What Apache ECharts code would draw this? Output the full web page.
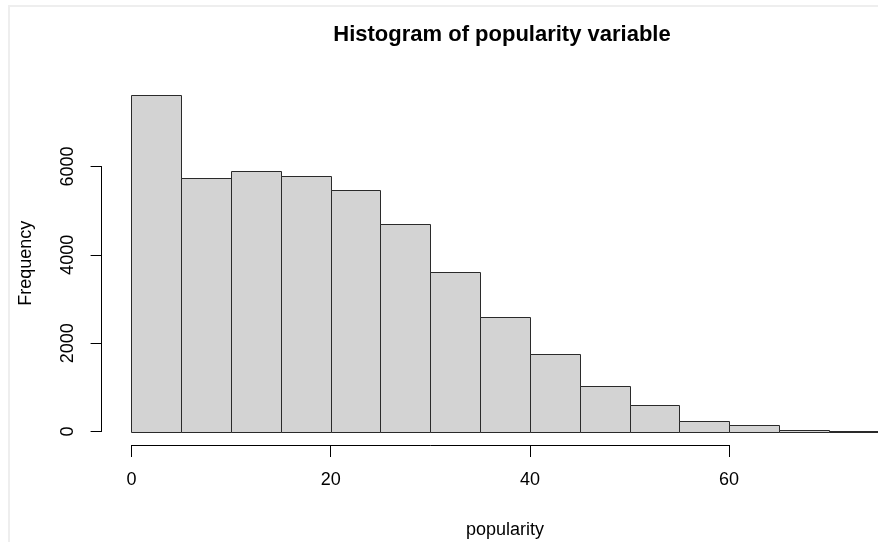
<!DOCTYPE html>
<html>
<head>
<meta charset="utf-8">
<script src="https://cdn.jsdelivr.net/npm/echarts@6/dist/echarts.min.js"></script>
<style>
html,body{margin:0;padding:0;background:#fff;}
#chart{width:878px;height:542px;}
</style>
</head>
<body>
<div id="chart"></div>
<script>
// ---- data ----
const breaks = [0, 5, 10, 15, 20, 25, 30, 35, 40, 45, 50, 55, 60, 65, 70, 75];
const counts = [7620, 5740, 5900, 5790, 5470, 4690, 3610, 2590, 1755, 1020, 590, 240, 140, 30, 2];
const xTicks = [0, 20, 40, 60];
const yTicks = [0, 2000, 4000, 6000];
const titleText = 'Histogram of popularity variable';
const xName = 'popularity';
const yName = 'Frequency';

// ---- layout (R-style 4% axis extension) ----
const FONT = "'Liberation Sans', Arial, sans-serif";
const CW = 878;
const plotLeft = 101.6, plotRight = 908.4, plotTop = 81.5, plotBottom = 445;
const xRange = breaks[breaks.length - 1] - breaks[0];
const xMin = breaks[0] - 0.04 * xRange, xMaxFull = breaks[breaks.length - 1] + 0.04 * xRange;
const yTop = Math.max(...counts);
const yMin = -0.04 * yTop, yMax = yTop * 1.04;
const W = plotRight - plotLeft, H = plotBottom - plotTop;
const sx = W / (xMaxFull - xMin), sy = H / (yMax - yMin);
// visible part of the plot region (the reference is cropped at the right edge)
const Wvis = CW - plotLeft;
const xMaxVis = xMin + Wvis / sx;
const plotCenterX = plotLeft + W / 2;
const xT0 = xTicks[0], xT1 = xTicks[xTicks.length - 1];
const yT0 = yTicks[0], yT1 = yTicks[yTicks.length - 1];

const data = counts.map((c, i) => [breaks[i], breaks[i + 1], c]);

const chart = echarts.init(document.getElementById('chart'), null, {renderer: 'canvas'});
const crisp = v => Math.round(v) + 0.5;

chart.setOption({
  animation: false,
  backgroundColor: '#fff',
  graphic: [
    {type: 'rect', shape: {x: 9, y: 6, width: 900, height: 600}, style: {fill: 'none', stroke: '#eeeeee', lineWidth: 2}, silent: true, z: -10},
    {type: 'text', x: 502, y: 24, style: {text: titleText, font: 'bold 22px ' + FONT, fill: '#000', textAlign: 'center', textVerticalAlign: 'top'}},
    {type: 'text', x: plotCenterX, y: 521, style: {text: xName, font: '18px ' + FONT, fill: '#000', textAlign: 'center', textVerticalAlign: 'top'}}
  ],
  grid: [
    {left: plotLeft, top: plotTop, width: Wvis, height: H, containLabel: false},
    {left: plotLeft + (xT0 - xMin) * sx, top: plotTop, width: (xT1 - xT0) * sx, height: H, containLabel: false},
    {left: plotLeft, top: plotTop + (yMax - yT1) * sy, width: 100, height: (yT1 - yT0) * sy, containLabel: false}
  ],
  xAxis: [
    {type: 'value', gridIndex: 0, min: xMin, max: xMaxVis, axisLine: {show: false}, axisTick: {show: false}, axisLabel: {show: false}, splitLine: {show: false}},
    {type: 'value', gridIndex: 1, min: xT0, max: xT1, interval: xTicks[1] - xTicks[0], splitLine: {show: false},
     axisLine: {show: true, lineStyle: {color: '#000', width: 1}},
     axisTick: {show: true, length: 12, lineStyle: {color: '#000', width: 1}},
     axisLabel: {show: true, margin: 26, fontFamily: FONT, fontSize: 18, color: '#000', showMinLabel: true, showMaxLabel: true,
                 formatter: v => String(v)}},
    {type: 'value', gridIndex: 2, min: 0, max: 1, show: false}
  ],
  yAxis: [
    {type: 'value', gridIndex: 0, min: yMin, max: yMax, axisLine: {show: false}, axisTick: {show: false}, axisLabel: {show: false}, splitLine: {show: false},
     name: yName, nameLocation: 'middle', nameGap: 67, nameRotate: 90, nameTextStyle: {fontFamily: FONT, fontSize: 18, color: '#000'}},
    {type: 'value', gridIndex: 1, min: 0, max: 1, show: false},
    {type: 'value', gridIndex: 2, min: yT0, max: yT1, interval: yTicks[1] - yTicks[0], splitLine: {show: false},
     axisLine: {show: true, lineStyle: {color: '#000', width: 1}},
     axisTick: {show: true, length: 11, lineStyle: {color: '#000', width: 1}},
     axisLabel: {show: true, rotate: 90, margin: 25, fontFamily: FONT, fontSize: 18, color: '#000', showMinLabel: true, showMaxLabel: true,
                 formatter: v => String(v)}}
  ],
  series: [{
    type: 'custom',
    xAxisIndex: 0, yAxisIndex: 0,
    data: data,
    clip: false,
    renderItem: function (params, api) {
      const p0 = api.coord([api.value(0), api.value(2)]);
      const p1 = api.coord([api.value(1), 0]);
      const x0 = crisp(p0[0]), x1 = crisp(p1[0]);
      const y0 = crisp(p0[1]), y1 = crisp(p1[1]);
      return {
        type: 'rect',
        shape: {x: x0, y: y0, width: x1 - x0, height: y1 - y0},
        style: {fill: '#d3d3d3', stroke: '#2a2a2a', lineWidth: 1}
      };
    }
  }]
});
</script>
</body>
</html>
